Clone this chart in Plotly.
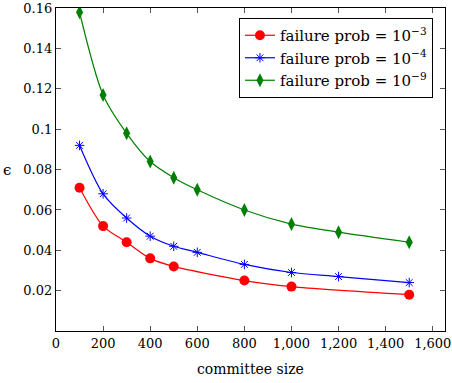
import plotly.graph_objects as go

x_red = [100, 200, 300, 400, 500, 800, 1000, 1500]
y_red = [0.071, 0.052, 0.044, 0.036, 0.032, 0.025, 0.022, 0.018]
x_blue = [100, 200, 300, 400, 500, 600, 800, 1000, 1200, 1500]
y_blue = [0.092, 0.068, 0.056, 0.047, 0.042, 0.039, 0.033, 0.029, 0.027, 0.024]
x_green = [100, 200, 300, 400, 500, 600, 800, 1000, 1200, 1500]
y_green = [0.158, 0.117, 0.098, 0.084, 0.076, 0.070, 0.060, 0.053, 0.049, 0.044]

x_ticks = [0, 200, 400, 600, 800, 1000, 1200, 1400, 1600]
x_ticklabels = ["0", "200", "400", "600", "800", "1,000", "1,200", "1,400", "1,600"]
y_ticks = [0.02, 0.04, 0.06, 0.08, 0.1, 0.12, 0.14, 0.16]
y_ticklabels = ["0.02", "0.04", "0.06", "0.08", "0.1", "0.12", "0.14", "0.16"]

FONT = "DejaVu Serif"

fig = go.Figure()
fig.add_trace(go.Scatter(x=x_red, y=y_red, mode="lines+markers", name="failure prob = 10<sup>−3</sup>",
                         line=dict(color="red", width=1.2, shape="spline", smoothing=0.8),
                         marker=dict(symbol="circle", size=10, color="red")))
fig.add_trace(go.Scatter(x=x_blue, y=y_blue, mode="lines+markers", name="failure prob = 10<sup>−4</sup>",
                         line=dict(color="blue", width=1.2, shape="spline", smoothing=0.8),
                         marker=dict(symbol="asterisk-open", size=8, color="blue", line=dict(color="blue", width=1))))
fig.add_trace(go.Scatter(x=x_green, y=y_green, mode="lines+markers", name="failure prob = 10<sup>−9</sup>",
                         line=dict(color="green", width=1.2, shape="spline", smoothing=0.8),
                         marker=dict(symbol="diamond-tall", size=10, color="green")))

axis_common = dict(showgrid=False, zeroline=False, showline=True, linecolor="black", linewidth=1.2,
                   mirror="ticks", ticks="inside", ticklen=5, tickcolor="#555", tickwidth=1,
                   automargin=False, ticklabeloverflow="allow",
                   tickfont=dict(family=FONT, size=13, color="black"))

fig.update_xaxes(range=[0, 1652], tickvals=x_ticks, ticktext=x_ticklabels, **axis_common)
fig.update_yaxes(range=[0, 0.1601], tickvals=y_ticks, ticktext=y_ticklabels, **axis_common)

fig.add_annotation(text="committee size", xref="paper", yref="paper", x=0.5, y=-0.117,
                   xanchor="center", yanchor="middle", showarrow=False,
                   font=dict(family=FONT, size=14, color="black"))
fig.add_annotation(text="ϵ", xref="paper", yref="paper", x=-0.125, y=0.5,
                   xanchor="center", yanchor="middle", showarrow=False,
                   font=dict(family=FONT, size=15, color="black"))

fig.update_layout(
    width=452, height=383,
    margin=dict(l=56, r=7, t=8, b=52),
    plot_bgcolor="white", paper_bgcolor="white",
    font=dict(family=FONT, size=13, color="black"),
    legend=dict(x=0.969, y=0.969, xanchor="right", yanchor="top",
                bgcolor="white", bordercolor="black", borderwidth=1,
                font=dict(family=FONT, size=15), tracegroupgap=0, itemwidth=30),
    showlegend=True,
)

fig.write_html("out.html", config={"displayModeBar": False},
               post_script="document.body.style.margin='0';document.body.style.padding='0';")
